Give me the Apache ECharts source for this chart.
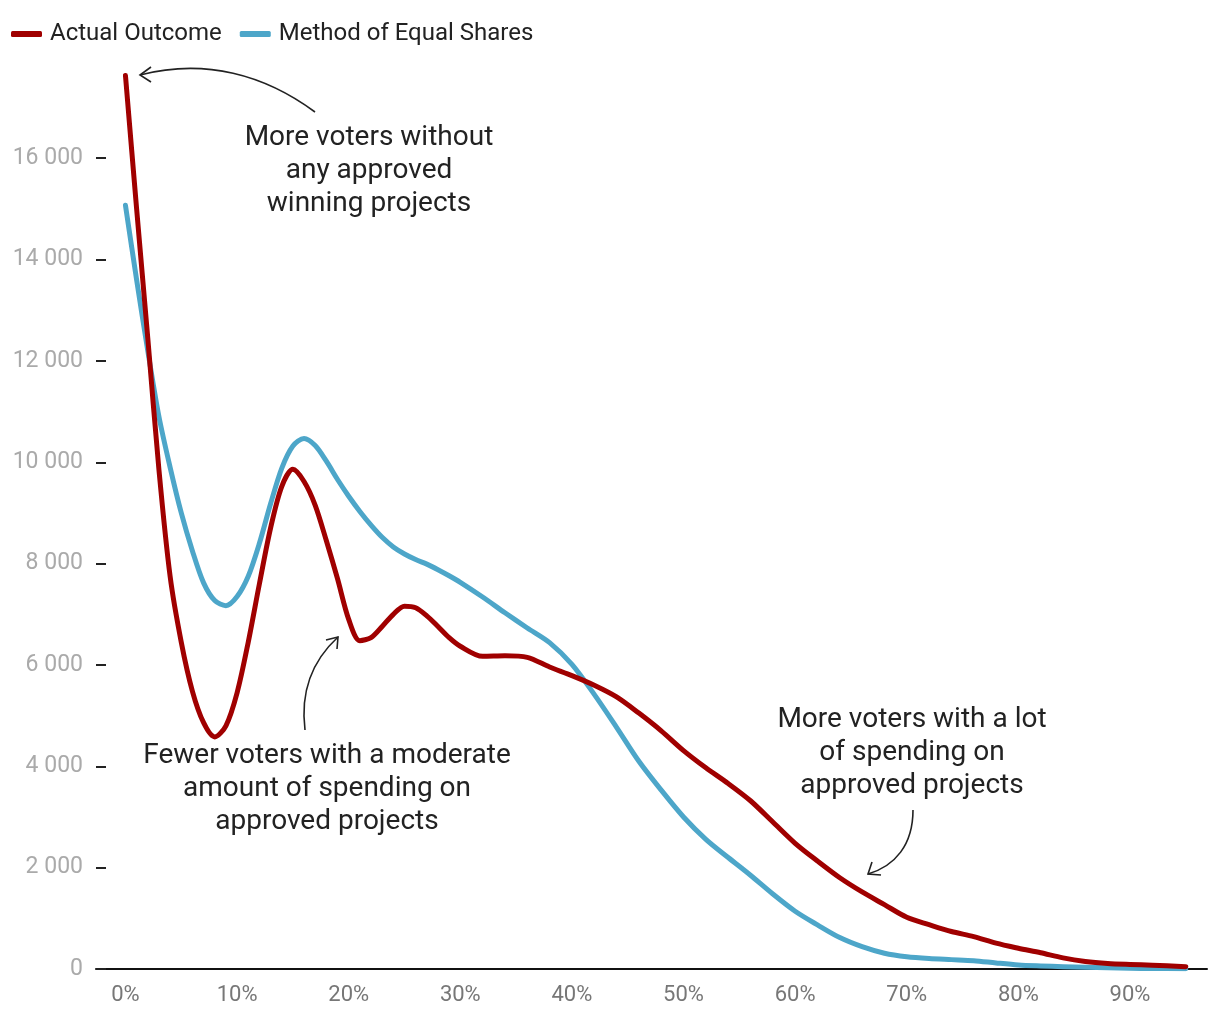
<!DOCTYPE html>
<html>
<head>
<meta charset="utf-8">
<script src="https://cdn.jsdelivr.net/npm/echarts@6/dist/echarts.min.js"></script>
<style>
html,body{margin:0;padding:0;background:#fff;}
#chart{width:1220px;height:1020px;}
</style>
</head>
<body>
<div id="chart"></div>
<script>
// Share of voter's ballot spent on approved projects (%)
const pct = [0,1,2,3,4,5,6,7,8,9,10,11,12,13,14,15,16,17,18,19,20,21,22,23,24,25,26,27,28,29,30,32,34,36,38,40,42,44,46,48,50,52,54,56,58,60,62,64,66,68,70,72,74,76,78,80,82,84,86,88,90,92,95];
const actualOutcome = [17630,15000,12450,9850,7750,6450,5480,4860,4580,4800,5450,6450,7600,8700,9520,9860,9620,9150,8450,7700,6900,6480,6540,6760,7000,7160,7130,6970,6760,6540,6370,6170,6180,6150,5960,5790,5600,5370,5050,4700,4310,3970,3660,3320,2900,2480,2130,1800,1520,1270,1020,875,740,640,510,410,320,220,150,110,90,75,45];
const equalShares = [15070,13600,12200,10900,9900,9000,8250,7620,7270,7170,7350,7750,8400,9180,9880,10320,10470,10330,10020,9660,9330,9030,8760,8520,8330,8190,8080,7990,7880,7760,7630,7340,7030,6730,6440,6010,5420,4770,4100,3530,3000,2560,2200,1850,1480,1140,870,620,440,310,240,205,185,165,120,80,60,45,35,25,15,10,5];
const seriesNames = ['Actual Outcome','Method of Equal Shares'];
const yTicks = [0,2000,4000,6000,8000,10000,12000,14000,16000];
const xTicks = [0,10,20,30,40,50,60,70,80,90];

const RED = '#a00000';
const BLUE = '#4da6c9';
const FONT = 'Roboto';

const chart = echarts.init(document.getElementById('chart'), null, {renderer:'canvas'});

function toPairs(vals){ return pct.map((p,i)=>[p, vals[i]]); }

const option = {
  animation:false,
  backgroundColor:'#fff',
  textStyle:{fontFamily:FONT},
  legend:{
    left:6, top:17,
    icon:'roundRect',
    itemWidth:31, itemHeight:6,
    itemGap:18,
    textStyle:{fontFamily:FONT,fontSize:24,color:'#222',padding:[0,0,0,3]},
    data:seriesNames
  },
  grid:{left:96,right:13,top:67,bottom:51,containLabel:false},
  xAxis:{
    type:'value', min:-2.64, max:96.9,
    axisLine:{show:true,onZero:false,lineStyle:{color:'#111',width:2}},
    axisTick:{show:false},
    splitLine:{show:false},
    axisLabel:{customValues:xTicks,formatter:v=>v+'%',color:'#777',fontSize:22,fontFamily:FONT,margin:15}
  },
  yAxis:{
    type:'value', min:0, max:17800,
    axisLine:{show:false,onZero:false},
    axisTick:{show:true,inside:true,length:10,customValues:yTicks,lineStyle:{color:'#222',width:2}},
    splitLine:{show:false},
    axisLabel:{customValues:yTicks,color:'#aaa',fontSize:23,fontFamily:FONT,margin:13,
      formatter:v=>String(v).replace(/\B(?=(\d{3})+(?!\d))/g,' ')}
  },
  series:[
    {name:seriesNames[0],type:'line',data:toPairs(actualOutcome),smooth:0.3,showSymbol:false,
     lineStyle:{color:RED,width:5,cap:'round',join:'round'},itemStyle:{color:RED},z:3},
    {name:seriesNames[1],type:'line',data:toPairs(equalShares),smooth:0.3,showSymbol:false,
     lineStyle:{color:BLUE,width:5,cap:'round',join:'round'},itemStyle:{color:BLUE},z:2}
  ]
};
chart.setOption(option);

// Annotations (text + curved arrows)
const txtStyle = {fontFamily:FONT,fontSize:28,fill:'#222',textAlign:'center',textVerticalAlign:'middle',lineHeight:33};
function arrow(p0,c1,c2,p3,h1,h2){
  return [
    {type:'bezierCurve',shape:{x1:p0[0],y1:p0[1],cpx1:c1[0],cpy1:c1[1],cpx2:c2[0],cpy2:c2[1],x2:p3[0],y2:p3[1]},
     style:{stroke:'#222',lineWidth:1.6,fill:null},z:10},
    {type:'polyline',shape:{points:[h1,p3,h2]},style:{stroke:'#222',lineWidth:1.6,fill:null},z:10}
  ];
}
chart.setOption({
  graphic:[
    {type:'text',x:369,y:171,style:Object.assign({text:'More voters without\nany approved\nwinning projects'},txtStyle),z:10},
    {type:'text',x:327,y:789,style:Object.assign({text:'Fewer voters with a moderate\namount of spending on\napproved projects'},txtStyle),z:10},
    {type:'text',x:912,y:753,style:Object.assign({text:'More voters with a lot\nof spending on\napproved projects'},txtStyle),z:10},
    ...arrow([315,112],[265,75],[205,58],[140,75],[151,67],[151,82]),
    ...arrow([305,730],[300,690],[313,660],[338,637],[326,640],[337,649]),
    ...arrow([913,810],[913,845],[895,866],[868,874],[872,862],[881,875])
  ]
});
</script>
</body>
</html>
